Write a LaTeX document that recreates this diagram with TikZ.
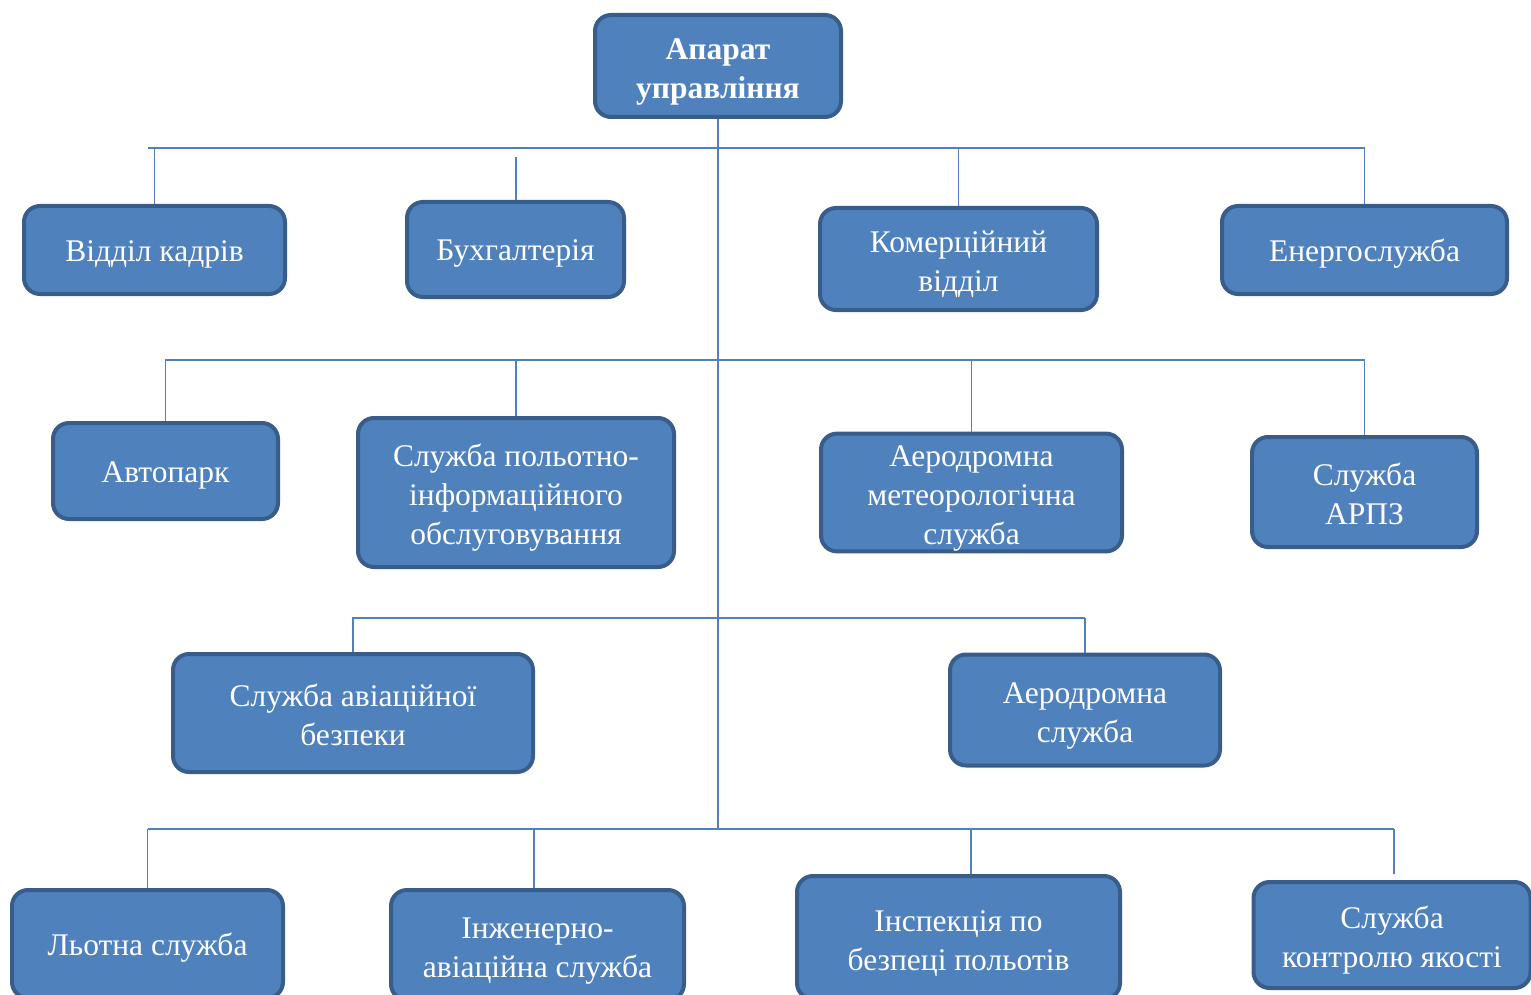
\documentclass[tikz,border=0pt]{standalone}
\usepackage{fontspec}
\setmainfont{Liberation Serif}
\usepackage{tikz}
\usetikzlibrary{calc}
\definecolor{boxfill}{HTML}{4F81BD}
\definecolor{boxline}{HTML}{385D8A}
\definecolor{linkline}{HTML}{4F81BD}
\newcommand{\liftline}{\rule{0pt}{33pt}}

\begin{document}
\begin{tikzpicture}[x=1pt,y=-1pt]
\tikzset{unit/.style 2 args = {draw=boxline,fill=boxfill,line width=4pt,rounded corners=16pt,
  text=white,align=center,inner sep=0pt,font=\fontsize{31.5}{39}\selectfont,
  minimum width=#1pt,minimum height=#2pt,
  execute at begin node=\rule{0pt}{29pt},execute at end node=\rule[-6.5pt]{0pt}{0pt}}}
\tikzset{link/.style = {draw=linkline,line width=1.8pt}}
\useasboundingbox (0,0) rectangle (1531,995);
\clip (0,0) rectangle (1531,995);
% top
\node[unit={246}{102},font=\fontsize{31.5}{39}\selectfont\bfseries] (app) at (718,66) {\liftline Апарат\\управління};
% row 1
\node[unit={261}{88}] (kadry) at (154.5,250) {Відділ кадрів};
\node[unit={217}{95}] (buh) at (515.5,249.5) {Бухгалтерія};
\node[unit={277}{102}] (kom) at (958.5,259) {\liftline Комерційний\\відділ};
\node[unit={285}{88}] (energo) at (1364.5,250) {Енергослужба};
% row 2
\node[unit={225}{96}] (avto) at (165.5,471) {Автопарк};
\node[unit={316}{149}] (spoi) at (516,492.5) {\liftline Служба польотно-\\інформаційного\\обслуговування};
\node[unit={301}{111}] (meteo) at (971.5,492.5) {\liftline Аеродромна\\метеорологічна\\служба};
\node[unit={225}{110}] (arpz) at (1364.5,492) {\liftline Служба\\АРПЗ};
% row 3
\node[unit={360}{118}] (avb) at (353,713) {\liftline Служба авіаційної\\безпеки};
\node[unit={270}{111}] (aer) at (1085,710) {\liftline Аеродромна\\служба};
% row 4
\node[unit={271}{108}] (lot) at (147.5,944) {Льотна служба};
\node[unit={293}{110}] (inzh) at (537.5,945) {\liftline Інженерно-\\авіаційна служба};
\node[unit={323}{123}] (insp) at (958.5,937.5) {\liftline Інспекція по\\безпеці польотів};
\node[unit={277}{106}] (kontr) at (1392,935) {\liftline Служба\\контролю якості};
% buses
\coordinate (t1) at (148,148);  \coordinate (t1r) at (1365,148);
\coordinate (t2) at (165,360);  \coordinate (t2r) at (1365,360);
\coordinate (t3) at (352,618);  \coordinate (t3r) at (1085,618);
\coordinate (t4) at (148,829);  \coordinate (t4r) at (1394,829);
\coordinate (buhtop) at (516,157);
\coordinate (inzhtop) at (534,829);
\coordinate (insptop) at (971,829);
\coordinate (kontrtop) at (1394,829);
\draw[link] (app.south) -- (app.south |- t4);
\draw[link] (t1) -- (t1r);
\draw[link] (t2) -- (t2r);
\draw[link] (t3) -- (t3r);
\draw[link] (t4) -- (t4r);
% stubs
\draw[link] (kadry.north |- t1) -- (kadry.north);
\draw[link] (buhtop) -- (buhtop |- buh.north);
\draw[link] (kom.north |- t1) -- (kom.north);
\draw[link] (energo.north |- t1) -- (energo.north);
\draw[link] (avto.north |- t2) -- (avto.north);
\draw[link] (spoi.north |- t2) -- (spoi.north);
\draw[link] (meteo.north |- t2) -- (meteo.north);
\draw[link] (arpz.north |- t2) -- (arpz.north);
\draw[link] (avb.north |- t3) -- (avb.north);
\draw[link] (aer.north |- t3) -- (aer.north);
\draw[link] (lot.north |- t4) -- (lot.north);
\draw[link] (inzhtop) -- (inzhtop |- inzh.north);
\draw[link] (insptop) -- (insptop |- insp.north);
\draw[link] (kontrtop) -- ($(kontrtop |- kontr.north)+(0,-6)$);
\end{tikzpicture}
\end{document}
